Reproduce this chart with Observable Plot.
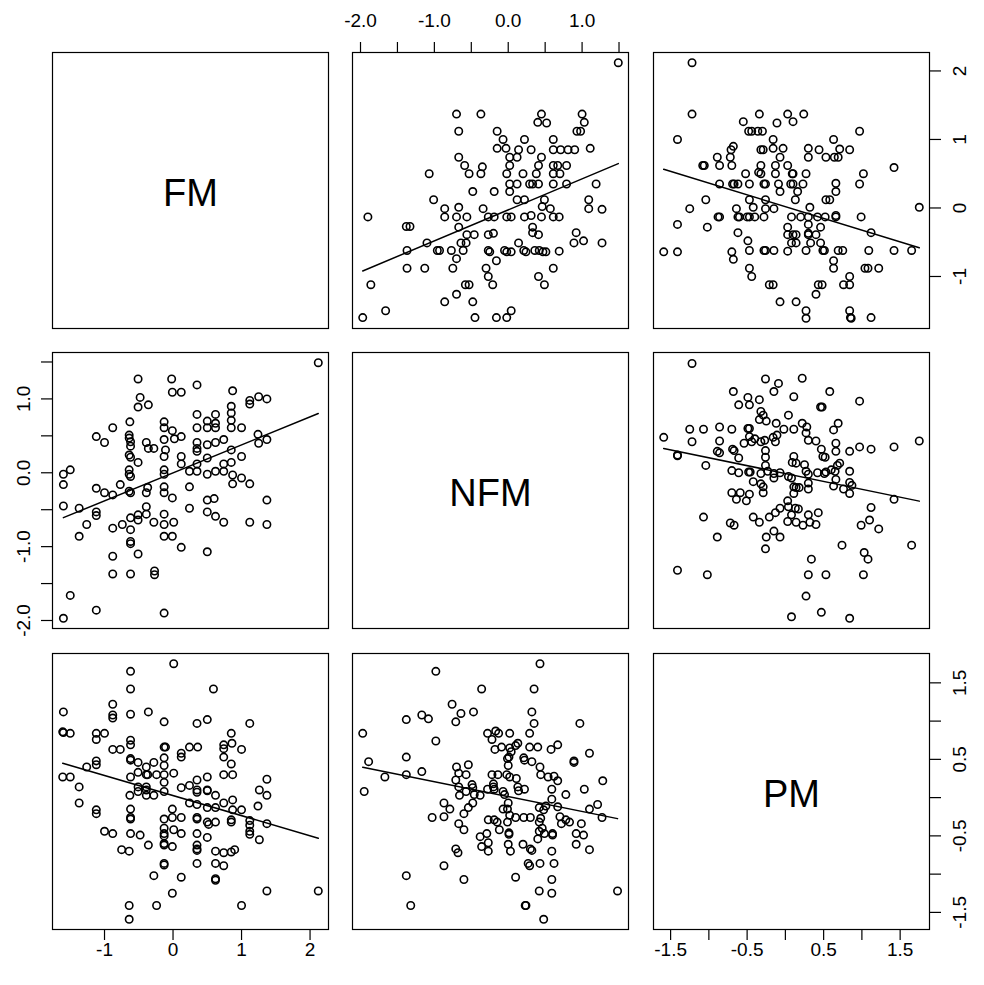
<!DOCTYPE html>
<html><head><meta charset="utf-8">
<script src="https://cdn.jsdelivr.net/npm/d3@7"></script>
<script src="https://cdn.jsdelivr.net/npm/@observablehq/plot@0.6"></script>
<style>
html,body{margin:0;padding:0;background:#fff;}
#chart{position:relative;width:984px;height:985px;font-family:"Liberation Sans",Arial,sans-serif;}
#chart svg{position:absolute;overflow:visible;}
</style></head><body><div id="chart"></div>
<script>
const varNames = ["FM", "NFM", "PM"];

// [FM, NFM] pairs
const fmNfm = [
[2.12,1.49],[-0.51,1.27],[-0.02,1.27],[0.35,1.19],[-0.01,1.09],[0.12,1.09],[0.87,1.11],[-0.48,1.02],[-0.51,0.89],[-0.36,0.92],
[1.12,0.98],[1.12,0.93],[1.25,1.03],[1.37,1.00],[0.85,0.90],[0.85,0.81],[0.85,0.71],[0.85,0.61],[1.00,0.61],[0.35,0.79],
[0.50,0.70],[0.62,0.79],[0.62,0.67],[0.62,0.61],[0.50,0.61],[0.35,0.61],[-0.63,0.69],[-0.88,0.61],[-1.12,0.49],[-1.00,0.41],
[-0.64,0.51],[-0.64,0.47],[-0.62,0.42],[-0.62,0.36],[-0.64,0.24],[-0.62,0.21],[-0.51,0.14],[-0.13,0.69],[-0.13,0.61],[-0.01,0.57],
[0.02,0.46],[0.12,0.49],[-0.39,0.41],[-0.36,0.33],[-0.28,0.33],[-0.13,0.45],[-0.11,0.31],[-0.13,0.22],[0.35,0.41],[0.35,0.33],
[0.35,0.29],[0.50,0.38],[0.62,0.41],[0.74,0.45],[0.50,0.20],[0.85,0.31],[1.00,0.22],[1.24,0.52],[1.25,0.40],[1.37,0.45],
[0.12,0.22],[0.12,0.12],[0.24,0.02],[0.35,0.12],[0.35,0.02],[0.50,-0.02],[0.62,0.02],[0.74,0.12],[0.74,0.02],[0.85,0.14],
[0.87,-0.03],[1.00,-0.07],[-0.64,0.04],[-0.64,-0.02],[-0.62,-0.05],[-1.60,-0.02],[-1.50,0.04],[-0.13,0.04],[-0.13,-0.02],
[-1.60,-0.16],[-1.12,-0.21],[-1.00,-0.27],[-0.88,-0.30],[-0.77,-0.16],[-0.64,-0.25],[-0.62,-0.27],[-0.37,-0.20],[-0.39,-0.27],[-0.13,-0.19],
[-0.13,-0.27],[-0.01,-0.34],[0.24,-0.19],[0.87,-0.15],[1.12,-0.15],[0.50,-0.37],[0.60,-0.35],[1.37,-0.37],[-1.60,-0.45],[-1.37,-0.48],
[-1.12,-0.53],[-1.12,-0.58],[-1.26,-0.70],[-1.37,-0.86],[-0.62,-0.61],[-0.51,-0.57],[-0.39,-0.46],[-0.39,-0.56],[-0.74,-0.70],[-0.88,-0.75],
[-0.62,-0.77],[-0.51,-0.64],[-0.28,-0.67],[-0.13,-0.56],[-0.13,-0.70],[0.01,-0.67],[-0.13,-0.86],[-0.01,-0.86],[0.24,-0.48],[0.50,-0.53],
[0.62,-0.59],[0.74,-0.67],[1.12,-0.67],[1.37,-0.70],[-0.62,-0.93],[-0.62,-0.96],[-0.51,-1.10],[-0.88,-1.13],[0.12,-1.01],[0.50,-1.07],
[-0.88,-1.37],[-0.62,-1.37],[-0.27,-1.33],[-0.27,-1.38],[-1.50,-1.66],[-1.12,-1.86],[-0.13,-1.90],[-1.60,-1.97]
];

// [FM, PM] pairs
const fmPm = [
[0.01,1.75],[-0.62,1.65],[-0.62,1.42],[0.59,1.42],[-1.60,1.12],[-0.88,1.22],[-0.88,1.08],[-0.88,1.04],[-0.62,1.09],[-0.36,1.12],
[-0.13,0.99],[0.35,0.97],[0.50,1.02],[1.12,0.97],[-1.61,0.86],[-1.60,0.85],[-1.50,0.84],[-1.12,0.84],[-1.12,0.76],[-1.00,0.84],
[0.85,0.84],[-0.62,0.75],[-0.62,0.69],[-0.88,0.63],[-0.77,0.63],[-0.13,0.66],[-0.11,0.66],[0.24,0.66],[0.36,0.66],[0.12,0.58],
[0.12,0.53],[0.74,0.69],[0.74,0.64],[0.86,0.71],[1.00,0.63],[0.74,0.53],[0.85,0.44],[1.37,0.24],[-1.12,0.48],[-1.12,0.43],
[-1.26,0.40],[-0.62,0.51],[-0.62,0.49],[-0.51,0.46],[-0.39,0.40],[-0.28,0.46],[-0.13,0.52],[-0.13,0.42],[0.01,0.32],[-1.61,0.27],
[-1.50,0.27],[-0.51,0.33],[-0.39,0.30],[-0.37,0.30],[-0.24,0.30],[-0.13,0.30],[-0.62,0.27],[0.35,0.23],[0.50,0.27],[0.74,0.30],
[0.87,0.30],
[-1.37,0.14],[-0.51,0.14],[-0.51,0.08],[-0.39,0.14],[-0.39,0.10],[-0.63,0.03],[-0.39,0.03],[-0.28,0.03],[-0.13,0.20],[-0.13,0.08],
[0.12,0.13],[0.24,0.16],[0.35,0.10],[0.35,0.07],[0.50,0.10],[0.50,0.09],[0.62,0.03],[1.26,0.10],[1.37,0.03],[-1.37,-0.07],
[-1.12,-0.16],[-1.12,-0.21],[-0.62,-0.15],[-0.62,-0.26],[-0.62,-0.28],[-0.01,-0.15],[-0.01,-0.26],[-0.13,-0.28],[0.12,-0.26],[0.24,-0.07],
[0.35,-0.09],[0.35,-0.26],[0.35,-0.28],[0.50,-0.13],[0.50,-0.32],[0.52,-0.35],[0.62,-0.13],[0.62,-0.32],[0.74,-0.07],[0.87,-0.03],
[0.87,-0.16],[1.00,-0.16],[0.85,-0.29],[0.85,-0.32],[1.12,-0.30],[1.12,-0.36],[1.12,-0.44],[1.12,-0.48],[1.24,-0.11],[1.37,-0.34],
[1.26,-0.55],[-1.00,-0.44],[-0.88,-0.47],[-0.62,-0.47],[-0.48,-0.49],[-0.13,-0.40],[-0.13,-0.47],[-0.13,-0.50],[0.01,-0.42],[0.12,-0.47],
[0.35,-0.47],[0.50,-0.52],[-0.13,-0.60],[-0.13,-0.62],[-0.01,-0.64],[-0.36,-0.62],[-0.75,-0.68],[-0.64,-0.70],[0.35,-0.62],[0.35,-0.67],
[0.35,-0.69],[0.62,-0.70],[0.74,-0.72],[0.85,-0.71],[0.90,-0.68],[-0.13,-0.86],[-0.13,-0.88],[0.35,-0.86],[0.62,-0.86],[0.74,-0.89],
[-0.28,-1.02],[0.12,-1.04],[0.62,-1.06],[0.62,-1.08],[-0.01,-1.25],[1.37,-1.22],[2.12,-1.22],[-0.64,-1.41],[-0.24,-1.41],[1.00,-1.41],
[-0.64,-1.59]
];

// [NFM, PM] pairs
const nfmPm = [
[0.43,1.75],[-0.98,1.65],[-0.36,1.42],[0.35,1.42],[-0.76,1.22],[-0.64,1.10],[-0.71,0.99],[-0.47,1.12],[-1.38,1.02],[-1.17,1.08],
[-1.08,1.03],[0.32,1.12],[0.35,0.97],[0.97,0.97],[-1.97,0.84],[-0.98,0.74],[-0.28,0.84],[-0.17,0.87],[-0.13,0.84],[-0.22,0.76],
[0.02,0.84],[0.29,0.84],[-0.18,0.63],[-0.09,0.66],[0.02,0.65],[0.04,0.60],[0.13,0.71],[0.10,0.68],[0.29,0.66],[0.40,0.66],
[0.58,0.63],[0.67,0.69],[1.10,0.58],[0.01,0.53],[-0.01,0.51],[0.21,0.52],[0.22,0.49],[0.32,0.47],[0.89,0.48],[0.89,0.46],
[-1.38,0.53],[-1.89,0.47],[-0.54,0.43],[-0.70,0.40],[-0.67,0.32],[-0.57,0.30],[-0.71,0.23],[-1.38,0.30],[-1.17,0.34],[-1.67,0.27],
[0.00,0.42],[-0.22,0.30],[-0.14,0.30],[-0.02,0.30],[0.02,0.27],[0.11,0.25],[0.43,0.40],[0.44,0.30],[0.54,0.27],[0.62,0.28],
[0.67,0.22],[1.28,0.22],[-0.49,0.17],[-0.20,0.18],
[-1.95,0.08],[-0.67,0.14],[-0.66,0.03],[-0.57,0.08],[-0.48,0.13],[-0.46,0.04],[-0.38,0.03],[-0.28,0.11],[-0.20,0.14],[-0.19,0.11],
[-0.07,0.08],[-0.05,0.04],[0.13,0.14],[0.14,0.09],[0.22,0.11],[0.59,0.11],[0.59,-0.02],[0.78,0.04],[1.03,0.11],[-0.87,-0.07],
[-0.79,-0.15],[-0.87,-0.25],[-1.03,-0.26],[-0.60,-0.21],[-0.54,-0.13],[-0.48,-0.07],[-0.67,-0.34],[-0.60,-0.42],[-0.07,-0.15],[-0.01,-0.15],
[0.00,-0.07],[0.02,-0.23],[0.10,-0.26],[0.21,-0.26],[0.30,-0.26],[0.42,-0.13],[0.48,-0.16],[0.51,-0.11],[0.67,-0.12],[0.44,-0.27],
[-0.27,-0.29],[-0.19,-0.29],[-0.15,-0.32],[-0.01,-0.32],[-0.12,-0.42],[0.01,-0.46],[0.01,-0.48],[0.42,-0.32],[0.42,-0.44],[0.46,-0.40],
[0.49,-0.47],[0.60,-0.47],[0.60,-0.49],[0.70,-0.25],[0.72,-0.34],[0.78,-0.29],[0.83,-0.32],[0.99,-0.34],[0.92,-0.47],[1.02,-0.49],
[1.10,-0.15],[1.21,-0.09],[1.27,-0.26],[-0.38,-0.51],[-0.29,-0.47],[-0.27,-0.59],[-0.36,-0.64],[-0.27,-0.70],[0.40,-0.54],[0.00,-0.61],
[0.03,-0.70],[0.20,-0.61],[0.30,-0.67],[0.32,-0.69],[0.59,-0.70],[0.92,-0.61],[1.10,-0.68],[-0.71,-0.67],[-0.68,-0.72],[-0.87,-0.89],
[0.27,-0.86],[0.29,-0.89],[0.43,-0.86],[0.62,-0.86],[-1.38,-1.02],[-0.60,-1.07],[0.10,-1.04],[0.59,-1.07],[0.42,-1.22],[0.59,-1.25],
[1.48,-1.22],[-1.32,-1.41],[0.23,-1.41],[0.24,-1.41],[0.48,-1.59]
];

// tick values per variable
const fmTicks = [-1, 0, 1, 2];
const nfmTicks = [-2, -1.5, -1, -0.5, 0, 0.5, 1, 1.5];
const pmTicks = [-1.5, -1, -0.5, 0, 0.5, 1, 1.5];

const tickSets = [fmTicks, nfmTicks, pmTicks];
const tickFormats = [
  d => String(d),
  d => Number.isInteger(d) ? d.toFixed(1) : "",
  d => Number.isInteger(d) ? "" : d.toFixed(1)
];

// variable value sets (for domains, R style 4% extension)
const allVals = [
  fmNfm.map(d => d[0]).concat(fmPm.map(d => d[0])),
  fmNfm.map(d => d[1]).concat(nfmPm.map(d => d[0])),
  fmPm.map(d => d[1]).concat(nfmPm.map(d => d[1]))
];
const domains = allVals.map(v => {
  const [a, b] = d3.extent(v); const e = (b - a) * 0.04; return [a - e, b + e];
});

function pairFor(r, c) {
  const key = [r, c].sort().join("");
  const ds = key === "01" ? fmNfm : key === "02" ? fmPm : nfmPm;
  const lo = Math.min(r, c);
  return { data: ds, xi: c === lo ? 0 : 1, yi: r === lo ? 0 : 1 };
}

const colX = [52, 352, 653], rowY = [52, 352, 653], S = 276, M = 70;
const FONT = "Liberation Sans, Arial, sans-serif";
const chart = document.getElementById("chart");

const axisCommon = { tickSize: 11, fontSize: 19, label: null, strokeWidth: 1.2 };
function bottomAxis(v) { return Plot.axisX({ ...axisCommon, anchor: "bottom", ticks: tickSets[v], tickFormat: tickFormats[v], tickPadding: 2 }); }
function topAxis(v) { return Plot.axisX({ ...axisCommon, anchor: "top", ticks: tickSets[v], tickFormat: tickFormats[v], tickPadding: 15 }); }
function leftAxis(v) { return Plot.axisY({ ...axisCommon, anchor: "left", ticks: tickSets[v], tickFormat: tickFormats[v], tickPadding: 12, tickRotate: -90 }); }
function rightAxis(v) { return Plot.axisY({ ...axisCommon, anchor: "right", ticks: tickSets[v], tickFormat: tickFormats[v], tickPadding: 12, tickRotate: -90, lineAnchor: "top" }); }

for (let r = 0; r < 3; r++) {
  for (let c = 0; c < 3; c++) {
    const marks = [Plot.frame({ stroke: "black", strokeWidth: 1.2 })];
    if (r === c) {
      marks.push(Plot.text([varNames[r]], { frameAnchor: "middle", text: d => d, fontSize: 38, fill: "black", fontFamily: FONT, dy: 3 }));
    } else {
      const { data, xi, yi } = pairFor(r, c);
      const x = d => d[xi], y = d => d[yi];
      marks.push(Plot.dot(data, { x, y, r: 3.7, stroke: "black", strokeWidth: 1.6, fill: "none" }));
      marks.push(Plot.linearRegressionY(data, { x, y, stroke: "black", strokeWidth: 1.5, ci: 0 }));
    }
    let hasX = false, hasY = false;
    if (r === 2 && (c === 0 || c === 2)) { marks.push(bottomAxis(c)); hasX = true; }
    if (r === 0 && c === 1) { marks.push(topAxis(c)); hasX = true; }
    if (c === 0 && r === 1) { marks.push(leftAxis(r)); hasY = true; }
    if (c === 2 && (r === 0 || r === 2)) { marks.push(rightAxis(r)); hasY = true; }
    const opts = {
      width: S + 2 * M, height: S + 2 * M, margin: M,
      style: { background: "transparent", fontFamily: FONT, fontSize: "19px", color: "black", overflow: "visible" },
      x: hasX ? { domain: domains[c] } : { domain: domains[c], axis: null },
      y: hasY ? { domain: domains[r] } : { domain: domains[r], axis: null },
      marks
    };
    const svg = Plot.plot(opts);
    svg.style.left = (colX[c] - M) + "px";
    svg.style.top = (rowY[r] - M) + "px";
    chart.appendChild(svg);
  }
}
</script></body></html>
